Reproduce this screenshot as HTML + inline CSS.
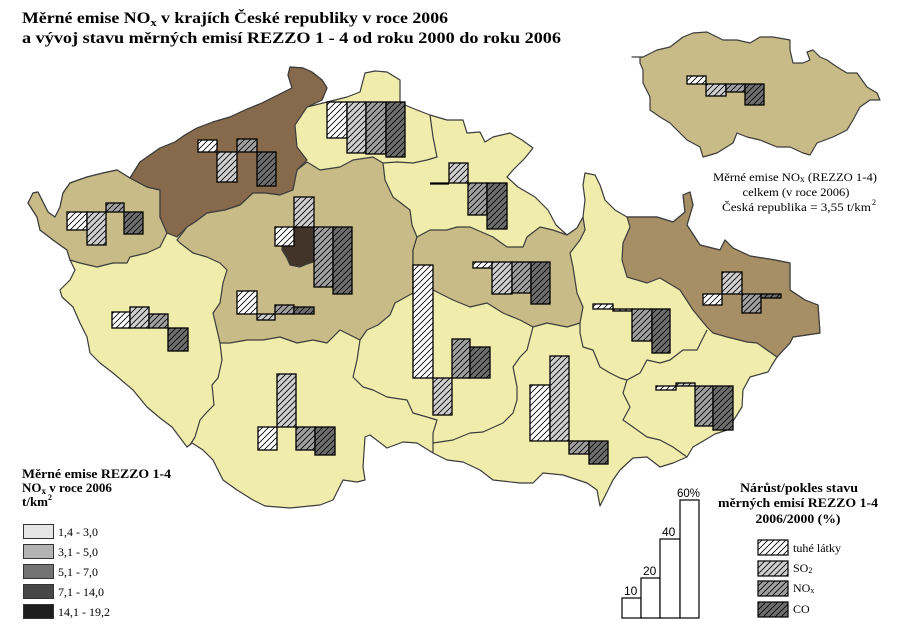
<!DOCTYPE html>
<html>
<head>
<meta charset="utf-8">
<style>
html,body{margin:0;padding:0;background:#fff;}
svg{display:block;}
text{font-family:"Liberation Serif","DejaVu Serif",serif;fill:#000;}
.sans{font-family:"Liberation Sans","DejaVu Sans",sans-serif;}
</style>
</head>
<body>
<svg width="901" height="636" viewBox="0 0 901 636" xmlns="http://www.w3.org/2000/svg">
<defs>
  <pattern id="hw" patternUnits="userSpaceOnUse" width="6" height="6">
    <rect width="6" height="6" fill="#ffffff"/>
    <path d="M-1,1 L1,-1 M0,6 L6,0 M5,7 L7,5" stroke="#000" stroke-width="0.8"/>
  </pattern>
  <pattern id="hs" patternUnits="userSpaceOnUse" width="6" height="6">
    <rect width="6" height="6" fill="#cfcfcf"/>
    <path d="M-1,1 L1,-1 M0,6 L6,0 M5,7 L7,5" stroke="#000" stroke-width="0.8"/>
  </pattern>
  <pattern id="hn" patternUnits="userSpaceOnUse" width="6" height="6">
    <rect width="6" height="6" fill="#a0a0a0"/>
    <path d="M-1,1 L1,-1 M0,6 L6,0 M5,7 L7,5" stroke="#000" stroke-width="0.8"/>
  </pattern>
  <pattern id="hc" patternUnits="userSpaceOnUse" width="6" height="6">
    <rect width="6" height="6" fill="#6e6e6e"/>
    <path d="M-1,1 L1,-1 M0,6 L6,0 M5,7 L7,5" stroke="#000" stroke-width="0.8"/>
  </pattern>
</defs>

<rect width="901" height="636" fill="#ffffff"/>

<!-- Title -->
<text x="22" y="23" font-size="16" font-weight="bold" textLength="426" lengthAdjust="spacingAndGlyphs">Měrné emise NO<tspan font-size="11" dy="3">x</tspan><tspan dy="-3"> v krajích České  republiky v roce 2006</tspan></text>
<text x="22" y="43" font-size="16" font-weight="bold" textLength="539" lengthAdjust="spacingAndGlyphs">a vývoj stavu měrných emisí REZZO 1 - 4 od roku 2000 do roku 2006</text>

<!-- Country base (yellow) -->
<g stroke="#3c3c3c" stroke-width="1.2" stroke-linejoin="round">
<polygon fill="#f0ecac" points="28,203 33,193 38,192 42,200 48,212 55,217 60,207 63,193 70,183 87,177 103,173 117,170 130,178 140,162 150,155 160,148 175,142 185,135 197,128 213,122 230,117 245,110 262,103 278,95 292,88 288,75 290,67 303,68 312,72 322,80 327,88 322,100 307,107 327,102 347,97 360,92 365,73 375,71 387,72 400,80 400,103 417,110 430,115 447,120 463,120 467,133 480,132 485,142 493,137 510,133 522,140 533,148 525,158 513,170 507,177 518,187 535,197 548,210 556,225 567,235 577,228 583,217 585,200 583,185 585,173 595,175 600,185 605,200 615,210 627,217 637,217 657,217 673,222 685,212 683,195 690,192 693,205 687,225 700,245 720,250 725,240 733,248 750,256 775,260 790,263 790,290 805,300 818,305 820,333 793,337 790,343 777,357 772,365 768,372 750,377 743,390 742,407 735,418 727,430 715,434 705,440 693,447 687,457 673,463 660,467 647,457 633,458 620,470 613,480 600,506 597,490 587,483 563,475 543,473 533,483 520,483 493,480 480,470 463,462 447,460 433,453 417,443 403,442 387,448 370,435 365,437 363,467 365,480 357,482 343,480 333,500 320,505 290,508 265,506 253,500 237,490 223,480 213,460 203,450 192,443 187,447 172,427 160,418 147,407 133,390 113,373 100,363 90,353 87,337 80,323 73,307 62,297 60,290 70,280 75,270 70,260 67,250 53,240 40,230 37,217"/>

<!-- Karlovy Vary -->
<polygon fill="#c8bb88" points="28,203 33,193 38,192 42,200 48,212 55,217 60,207 63,193 70,183 87,177 103,173 117,170 130,178 147,187 160,190 160,217 167,233 160,247 147,253 130,257 127,263 113,263 97,267 80,263 70,260 67,250 53,240 40,230 37,217"/>

<!-- Usti -->
<polygon fill="#866a4b" points="130,178 140,162 150,155 160,148 175,142 185,135 197,128 213,122 230,117 245,110 262,103 278,95 292,88 288,75 290,67 303,68 312,72 322,80 327,88 322,100 307,107 295,125 297,147 307,160 297,170 293,190 280,195 265,193 253,193 240,205 225,210 207,213 195,222 187,227 177,237 167,233 160,217 160,190 147,187"/>

<!-- Central Bohemia -->
<polygon fill="#c8bb88" points="177,240 187,227 195,222 207,213 225,210 240,205 253,193 265,193 280,195 293,190 297,170 307,162 320,170 340,167 353,160 373,157 383,163 385,180 393,197 410,210 412,225 417,237 413,250 413,293 395,303 390,315 378,325 367,330 360,340 340,330 327,343 313,340 297,343 280,337 263,340 247,340 230,343 220,343 217,330 213,313 220,303 223,283 227,270 220,263 207,257 193,253 180,243"/>

<!-- Pardubice -->
<polygon fill="#c8bb88" points="417,237 430,230 447,230 457,227 470,227 493,237 507,247 523,247 527,237 540,227 553,230 567,235 577,228 583,217 585,230 580,240 570,253 573,267 577,293 583,307 580,323 567,327 547,323 533,327 520,320 503,313 487,303 470,307 453,300 433,290 413,293 413,250"/>

<!-- Moravian-Silesian -->
<polygon fill="#a68e65" points="627,217 637,217 657,217 673,222 685,212 683,195 690,192 693,205 687,225 700,245 720,250 725,240 733,248 750,256 775,260 790,263 790,290 805,300 818,305 820,333 793,337 790,343 777,357 767,350 757,343 747,342 727,337 713,333 707,327 693,310 680,290 660,278 647,283 627,277 622,260 623,243 630,227"/>

<!-- Prague -->
<polygon fill="#43342a" points="294,227 313,227 313,262 307,264 300,267 290,265 287,258 282,250 282,246 294,246"/>
</g>

<!-- internal borders -->
<g fill="none" stroke="#3c3c3c" stroke-width="1.2" stroke-linejoin="round">
<polyline points="430,115 433,137 437,157 427,160 413,163 397,162 383,163"/>
<polyline points="220,343 222,360 218,378 212,385 214,405 207,412 200,420 195,437 190,445"/>
<polyline points="360,340 357,360 353,377 363,387 373,390 387,397 407,400 413,413 427,417 437,420 433,433 433,453"/>
<polyline points="433,443 453,440 470,433 483,432 503,423 513,413 517,400 517,387 513,367 520,357 527,350 533,327"/>
<polyline points="580,323 580,333 583,347 593,350 600,367 610,373 620,378 627,380"/>
<polyline points="627,380 640,373 647,360 660,363 670,360 683,350 697,350 707,330"/>
<polyline points="627,380 623,393 630,407 623,420 633,427 647,437 660,440 673,447 687,457"/>
</g>

<!-- Bars -->
<g stroke="#000" stroke-width="1.3">
<!-- KV -->
<rect x="67" y="212" width="20" height="18" fill="url(#hw)"/>
<rect x="87" y="212" width="19" height="33" fill="url(#hs)"/>
<rect x="106" y="203" width="18" height="9" fill="url(#hn)"/>
<rect x="124" y="212" width="19" height="22" fill="url(#hc)"/>
<!-- Usti -->
<rect x="198" y="140" width="19" height="12" fill="url(#hw)"/>
<rect x="217" y="152" width="20" height="30" fill="url(#hs)"/>
<rect x="237" y="139" width="20" height="13" fill="url(#hn)"/>
<rect x="257" y="152" width="19" height="34" fill="url(#hc)"/>
<!-- Liberec -->
<rect x="327" y="102" width="20" height="36" fill="url(#hw)"/>
<rect x="347" y="102" width="19" height="51" fill="url(#hs)"/>
<rect x="366" y="102" width="20" height="52" fill="url(#hn)"/>
<rect x="386" y="102" width="19" height="55" fill="url(#hc)"/>
<!-- Hradec -->
<line x1="430" y1="183.5" x2="449" y2="183.5" stroke-width="2.2"/>
<rect x="449" y="163" width="19" height="20" fill="url(#hs)"/>
<rect x="468" y="183" width="19" height="32" fill="url(#hn)"/>
<rect x="487" y="183" width="20" height="46" fill="url(#hc)"/>
<!-- Prague -->
<rect x="275" y="227" width="19" height="19" fill="url(#hw)"/>
<rect x="294" y="197" width="20" height="30" fill="url(#hs)"/>
<rect x="314" y="227" width="19" height="60" fill="url(#hn)"/>
<rect x="333" y="227" width="19" height="67" fill="url(#hc)"/>
<!-- Central -->
<rect x="237" y="291" width="20" height="23" fill="url(#hw)"/>
<rect x="257" y="314" width="18" height="6" fill="url(#hs)"/>
<rect x="275" y="305" width="19" height="9" fill="url(#hn)"/>
<rect x="294" y="307" width="20" height="7" fill="url(#hc)"/>
<!-- Plzen -->
<rect x="112" y="312" width="18" height="16" fill="url(#hw)"/>
<rect x="130" y="307" width="19" height="21" fill="url(#hs)"/>
<rect x="149" y="314" width="19" height="14" fill="url(#hn)"/>
<rect x="168" y="328" width="20" height="23" fill="url(#hc)"/>
<!-- South Bohemia -->
<rect x="258" y="427" width="19" height="23" fill="url(#hw)"/>
<rect x="277" y="374" width="19" height="53" fill="url(#hs)"/>
<rect x="296" y="427" width="19" height="23" fill="url(#hn)"/>
<rect x="315" y="427" width="20" height="28" fill="url(#hc)"/>
<!-- Vysocina -->
<rect x="413" y="265" width="20" height="113" fill="url(#hw)"/>
<rect x="433" y="378" width="19" height="37" fill="url(#hs)"/>
<rect x="452" y="339" width="18" height="39" fill="url(#hn)"/>
<rect x="470" y="347" width="20" height="31" fill="url(#hc)"/>
<!-- Pardubice -->
<rect x="473" y="262" width="19" height="6" fill="url(#hw)"/>
<rect x="492" y="262" width="20" height="32" fill="url(#hs)"/>
<rect x="512" y="262" width="19" height="31" fill="url(#hn)"/>
<rect x="531" y="262" width="19" height="42" fill="url(#hc)"/>
<!-- Olomouc -->
<rect x="593" y="304" width="20" height="5" fill="url(#hw)"/>
<rect x="613" y="309" width="19" height="2" fill="url(#hs)"/>
<rect x="632" y="309" width="20" height="32" fill="url(#hn)"/>
<rect x="652" y="309" width="18" height="44" fill="url(#hc)"/>
<!-- MS -->
<rect x="703" y="294" width="19" height="11" fill="url(#hw)"/>
<rect x="722" y="272" width="20" height="22" fill="url(#hs)"/>
<rect x="742" y="294" width="19" height="19" fill="url(#hn)"/>
<rect x="761" y="294" width="20" height="4" fill="url(#hc)"/>
<!-- South Moravia -->
<rect x="530" y="385" width="20" height="56" fill="url(#hw)"/>
<rect x="550" y="356" width="19" height="85" fill="url(#hs)"/>
<rect x="569" y="441" width="20" height="13" fill="url(#hn)"/>
<rect x="589" y="441" width="19" height="23" fill="url(#hc)"/>
<!-- Zlin -->
<rect x="656" y="386" width="20" height="4" fill="url(#hw)"/>
<rect x="676" y="383" width="19" height="3" fill="url(#hs)"/>
<rect x="695" y="386" width="18" height="40" fill="url(#hn)"/>
<rect x="713" y="386" width="20" height="44" fill="url(#hc)"/>
</g>

<!-- Inset map -->
<polygon fill="#c8bb88" stroke="#3c3c3c" stroke-width="1.2" stroke-linejoin="round" points="632,57 640,57 640,63 643,70 643,83 650,97 650,110 660,117 670,123 677,130 687,140 700,147 703,157 717,153 733,143 737,133 747,137 760,140 777,147 790,147 803,153 810,155 817,143 833,137 847,130 853,120 860,107 870,100 880,100 877,93 867,87 857,73 847,73 837,67 827,60 820,57 813,50 807,52 810,60 803,63 793,63 790,50 790,40 773,37 760,37 750,43 737,40 723,40 707,32 693,33 683,37 670,47 657,50 643,57"/>
<g stroke="#000" stroke-width="1.3">
<rect x="687" y="76" width="19" height="8" fill="url(#hw)"/>
<rect x="706" y="84" width="20" height="12" fill="url(#hs)"/>
<rect x="726" y="84" width="19" height="8" fill="url(#hn)"/>
<rect x="745" y="84" width="19" height="21" fill="url(#hc)"/>
</g>

<!-- Inset annotation -->
<text x="795" y="181" font-size="12" text-anchor="middle" textLength="164" lengthAdjust="spacingAndGlyphs">Měrné emise NO<tspan font-size="9" dy="1">x</tspan><tspan dy="-1"> (REZZO 1-4)</tspan></text>
<text x="796" y="196" font-size="12" text-anchor="middle" textLength="107" lengthAdjust="spacingAndGlyphs">celkem (v roce 2006)</text>
<text x="722" y="211" font-size="12" textLength="149" lengthAdjust="spacingAndGlyphs">Česká republika = 3,55 t/km</text>
<text x="872" y="205" font-size="8">2</text>

<!-- Left legend -->
<text x="22" y="478" font-size="13" font-weight="bold" textLength="149" lengthAdjust="spacingAndGlyphs">Měrné emise REZZO 1-4</text>
<text x="22" y="492" font-size="13" font-weight="bold">NO<tspan font-size="9" dy="2">x</tspan><tspan dy="-2"> v roce 2006</tspan></text>
<text x="22" y="506" font-size="13" font-weight="bold">t/km<tspan font-size="8" dy="-6">2</tspan></text>

<g stroke="#333" stroke-width="1">
<rect x="23.5" y="524.5" width="30" height="14" fill="#e6e6e6"/>
<rect x="23.5" y="544.5" width="30" height="14" fill="#b3b3b3"/>
<rect x="23.5" y="564.5" width="30" height="14" fill="#737373"/>
<rect x="23.5" y="584.5" width="30" height="14" fill="#474747"/>
<rect x="23.5" y="604.5" width="30" height="14" fill="#1e1e1e"/>
</g>
<text x="58" y="536" font-size="12">1,4 - 3,0</text>
<text x="58" y="556" font-size="12">3,1 - 5,0</text>
<text x="58" y="576" font-size="12">5,1 - 7,0</text>
<text x="58" y="596" font-size="12">7,1 - 14,0</text>
<text x="58" y="616" font-size="12">14,1 - 19,2</text>

<!-- Scale bars legend -->
<g stroke="#000" stroke-width="1.2" fill="#fff">
<rect x="622" y="598" width="19" height="20"/>
<rect x="641" y="578" width="19" height="40"/>
<rect x="660" y="539" width="20" height="79"/>
<rect x="680" y="500" width="19" height="118"/>
</g>
<text class="sans" x="624" y="595" font-size="12">10</text>
<text class="sans" x="643" y="575" font-size="12">20</text>
<text class="sans" x="662" y="536" font-size="12">40</text>
<text class="sans" x="677" y="497" font-size="12" textLength="23" lengthAdjust="spacingAndGlyphs">60%</text>

<!-- Right legend title -->
<text x="799" y="492" font-size="13" font-weight="bold" text-anchor="middle" textLength="118" lengthAdjust="spacingAndGlyphs">Nárůst/pokles stavu</text>
<text x="798" y="507" font-size="13" font-weight="bold" text-anchor="middle" textLength="160" lengthAdjust="spacingAndGlyphs">měrných emisí REZZO 1-4</text>
<text x="798" y="523" font-size="13" font-weight="bold" text-anchor="middle" textLength="85" lengthAdjust="spacingAndGlyphs">2006/2000 (%)</text>

<g stroke="#000" stroke-width="1.2">
<rect x="758" y="540" width="30" height="15" fill="url(#hw)"/>
<rect x="758" y="561" width="30" height="15" fill="url(#hs)"/>
<rect x="758" y="581" width="30" height="15" fill="url(#hn)"/>
<rect x="758" y="602" width="30" height="15" fill="url(#hc)"/>
</g>
<text x="793" y="552" font-size="12" textLength="48" lengthAdjust="spacingAndGlyphs">tuhé látky</text>
<text x="793" y="572" font-size="12">SO<tspan font-size="8" dy="1">2</tspan></text>
<text x="793" y="592" font-size="12">NO<tspan font-size="8" dy="1">x</tspan></text>
<text x="793" y="613" font-size="12">CO</text>
</svg>
</body>
</html>
